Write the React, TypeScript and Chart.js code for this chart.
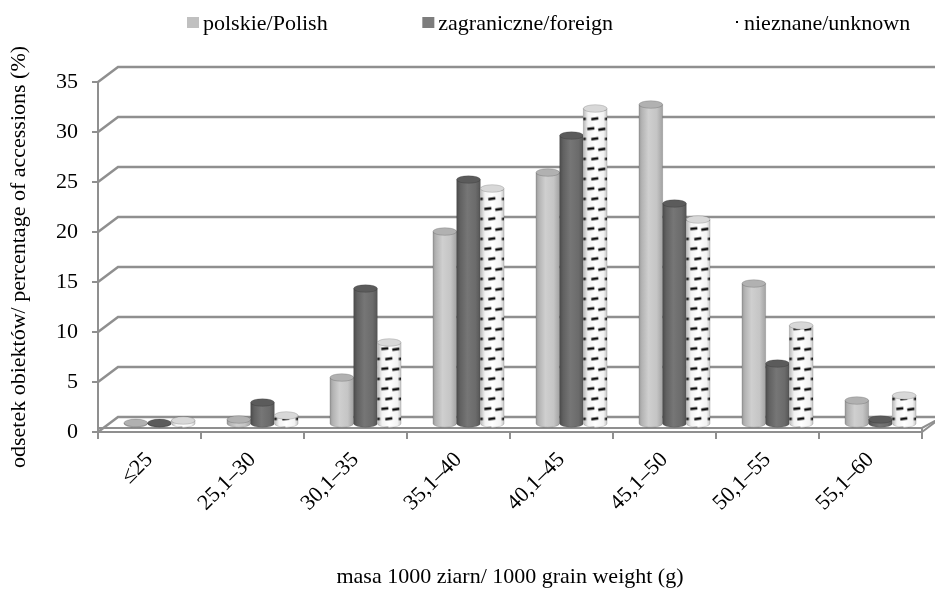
import React, { useEffect, useRef } from 'react';
import { Chart, registerables } from 'chart.js';

Chart.register(...registerables);

const categories = ['≤25', '25,1–30', '30,1–35', '35,1–40', '40,1–45', '45,1–50', '50,1–55', '55,1–60'];
const seriesLabels = ['polskie/Polish', 'zagraniczne/foreign', 'nieznane/unknown'];
const polishValues = [0.05, 0.5, 4.7, 19.3, 25.2, 32.0, 14.1, 2.4];
const foreignValues = [0.15, 2.2, 13.6, 24.5, 28.9, 22.1, 6.1, 0.5];
const unknownValues = [0.4, 0.9, 8.2, 23.6, 31.6, 20.5, 9.9, 2.9];
const yTicks = [0, 5, 10, 15, 20, 25, 30, 35];
const xAxisTitle = 'masa 1000 ziarn/ 1000 grain weight (g)';
const yAxisTitle = 'odsetek obiektów/ percentage of accessions (%)';

const FONT = '"Liberation Serif", "Times New Roman", serif';
const FONT_SIZE = 22;
const DX = 20;
const DY = -15;
const GRID = '#8f8f8f';

type Stops = [number, string][];
const STYLES: { body: Stops; top: string; pattern?: boolean }[] = [
  {
    body: [[0, '#9a9a9a'], [0.12, '#b3b3b3'], [0.4, '#cfcfcf'], [0.75, '#c5c5c5'], [1, '#a2a2a2']],
    top: '#b1b1b1',
  },
  {
    body: [[0, '#4c4c4c'], [0.15, '#616161'], [0.45, '#767676'], [0.8, '#6b6b6b'], [1, '#555555']],
    top: '#5b5b5b',
  },
  {
    body: [[0, 'rgba(0,0,0,0.28)'], [0.2, 'rgba(0,0,0,0.05)'], [0.5, 'rgba(0,0,0,0)'], [0.85, 'rgba(0,0,0,0.05)'], [1, 'rgba(0,0,0,0.22)']],
    top: '#e6e6e6',
    pattern: true,
  },
];

function makePatternCanvas(): HTMLCanvasElement {
  const c = document.createElement('canvas');
  c.width = 24;
  c.height = 20;
  const g = c.getContext('2d')!;
  g.fillStyle = '#ffffff';
  g.fillRect(0, 0, 24, 20);
  g.strokeStyle = '#0a0a0a';
  g.lineWidth = 2.4;
  const dash = (x1: number, y1: number, x2: number, y2: number) => {
    g.beginPath();
    g.moveTo(x1, y1);
    g.lineTo(x2, y2);
    g.stroke();
  };
  dash(4, 5.5, 11, 4.8);
  dash(15, 6.2, 22, 5.2);
  dash(0, 15.6, 2.5, 15.3);
  dash(8, 15.8, 15, 14.8);
  dash(21.5, 15.6, 24, 15.3);
  return c;
}

function drawCylinder(ctx: CanvasRenderingContext2D, cx: number, top: number, bottom: number, w: number, styleIdx: number, patCanvas: HTMLCanvasElement) {
  const st = STYLES[styleIdx];
  const rx = w / 2;
  const ry = 3.8;
  const l = cx - rx;
  const r = cx + rx;
  if (bottom - top < 0.6) top = bottom - 0.6;
  const bodyPath = () => {
    ctx.beginPath();
    ctx.moveTo(l, top);
    ctx.lineTo(l, bottom);
    ctx.ellipse(cx, bottom, rx, ry, 0, Math.PI, 0, true);
    ctx.lineTo(r, top);
    ctx.closePath();
  };
  const grad = ctx.createLinearGradient(l, 0, r, 0);
  st.body.forEach(([o, c]) => grad.addColorStop(o, c));
  bodyPath();
  if (st.pattern) {
    ctx.fillStyle = '#ffffff';
    ctx.fill();
    const pat = ctx.createPattern(patCanvas, 'repeat')!;
    pat.setTransform(new DOMMatrix().translate(l, bottom));
    ctx.fillStyle = pat;
    ctx.fill();
  }
  ctx.fillStyle = grad;
  ctx.fill();
  ctx.strokeStyle = 'rgba(0,0,0,0.18)';
  ctx.lineWidth = 0.8;
  ctx.stroke();
  ctx.beginPath();
  ctx.ellipse(cx, top, rx, ry, 0, 0, Math.PI * 2);
  ctx.fillStyle = st.top;
  ctx.fill();
  if (st.pattern) {
    ctx.fillStyle = 'rgba(0,0,0,0.06)';
    ctx.fill();
  }
  ctx.strokeStyle = 'rgba(0,0,0,0.2)';
  ctx.stroke();
}

export default function App() {
  const ref = useRef<HTMLCanvasElement | null>(null);

  useEffect(() => {
    if (!ref.current) return;
    const patCanvas = makePatternCanvas();

    const threeD = {
      id: 'threeD',
      beforeDraw(chart: any) {
        const { ctx, chartArea: a, scales } = chart;
        const y = scales.y;
        const b = a.bottom;
        ctx.save();
        ctx.beginPath();
        ctx.moveTo(a.left, b);
        ctx.lineTo(a.right, b);
        ctx.lineTo(a.right + DX, b + DY);
        ctx.lineTo(a.left + DX, b + DY);
        ctx.closePath();
        ctx.fillStyle = '#ffffff';
        ctx.fill();
        ctx.strokeStyle = GRID;
        ctx.lineWidth = 2.5;
        for (const v of yTicks) {
          const py = y.getPixelForValue(v);
          ctx.beginPath();
          ctx.moveTo(a.left, py);
          ctx.lineTo(a.left + DX, py + DY);
          ctx.lineTo(chart.width + 10, py + DY);
          ctx.stroke();
        }
        ctx.lineWidth = 2;
        ctx.beginPath();
        ctx.moveTo(a.left, b - 4);
        ctx.lineTo(a.right, b - 4);
        ctx.lineTo(a.right + DX, b + DY);
        ctx.stroke();
        ctx.beginPath();
        ctx.moveTo(a.right, b);
        ctx.lineTo(a.right + DX, b + DY);
        ctx.stroke();
        ctx.beginPath();
        ctx.moveTo(a.right, b - 4);
        ctx.lineTo(a.right, b);
        ctx.stroke();
        ctx.restore();
      },
      beforeDatasetDraw() {
        return false;
      },
      afterDatasetsDraw(chart: any) {
        const { ctx } = chart;
        const metas = chart.data.datasets.map((_: any, i: number) => chart.getDatasetMeta(i));
        ctx.save();
        for (let j = 0; j < categories.length; j++) {
          metas.forEach((meta: any, i: number) => {
            const el = meta.data[j];
            if (!el) return;
            const p = el.getProps(['x', 'y', 'base', 'width'], true);
            drawCylinder(ctx, p.x + DX / 2, p.y + DY / 2, p.base + DY / 2, p.width, i, patCanvas);
          });
        }
        ctx.restore();
      },
      afterDraw(chart: any) {
        const { ctx } = chart;
        ctx.save();
        ctx.font = `${FONT_SIZE}px ${FONT}`;
        ctx.textBaseline = 'alphabetic';
        ctx.textAlign = 'left';
        ctx.fillStyle = '#c0c0c0';
        ctx.fillRect(187, 17, 12, 11);
        ctx.fillStyle = '#000';
        ctx.fillText(seriesLabels[0], 203, 30);
        const w2 = ctx.measureText(seriesLabels[1]).width;
        const s2 = 613 - w2;
        ctx.fillStyle = '#7d7d7d';
        ctx.fillRect(s2 - 16, 17, 12, 11);
        ctx.fillStyle = '#000';
        ctx.fillText(seriesLabels[1], s2, 30);
        ctx.fillStyle = '#000';
        ctx.fillRect(736, 21, 2, 2);
        ctx.fillText(seriesLabels[2], 744, 30);
        ctx.restore();
      },
    };

    const tickFont = { family: FONT, size: FONT_SIZE };
    const chart = new Chart(ref.current, {
      type: 'bar',
      data: {
        labels: categories,
        datasets: [
          { label: seriesLabels[0], data: polishValues, backgroundColor: '#c0c0c0' },
          { label: seriesLabels[1], data: foreignValues, backgroundColor: '#6e6e6e' },
          { label: seriesLabels[2], data: unknownValues, backgroundColor: '#ffffff' },
        ],
      },
      options: {
        animation: false,
        responsive: true,
        maintainAspectRatio: false,
        layout: { padding: { top: 82, right: 13, left: 0, bottom: 0 } },
        datasets: { bar: { categoryPercentage: 0.69, barPercentage: 1 } } as any,
        plugins: {
          legend: { display: false },
          tooltip: { enabled: false },
        },
        scales: {
          x: {
            grid: { offset: true, drawOnChartArea: false, drawTicks: true, tickLength: 7, color: GRID, lineWidth: 2 },
            border: { display: true, color: GRID, width: 2 },
            ticks: { minRotation: 45, maxRotation: 45, font: tickFont, color: '#000', padding: 8, autoSkip: false },
            title: { display: true, text: xAxisTitle, font: tickFont, color: '#000', padding: { top: 0, bottom: 2 } },
            afterFit: (s: any) => {
              s.height = 160;
            },
          },
          y: {
            min: 0,
            max: 35,
            ticks: { stepSize: 5, font: tickFont, color: '#000', padding: 14 },
            afterBuildTicks: (s: any) => {
              s.ticks = yTicks.map((v) => ({ value: v }));
            },
            grid: { drawOnChartArea: false, drawTicks: true, tickLength: 6, color: GRID, lineWidth: 2 },
            border: { display: true, color: GRID, width: 2 },
            title: { display: true, text: yAxisTitle, font: tickFont, color: '#000', padding: { top: 6, bottom: 0 } },
            afterFit: (s: any) => {
              s.width = 98;
            },
          },
        },
      },
      plugins: [threeD],
    });
    return () => chart.destroy();
  }, []);

  return (
    <div style={{ position: 'absolute', left: 0, top: 0, width: 935, height: 592, background: '#fff' }}>
      <canvas ref={ref} />
    </div>
  );
}
